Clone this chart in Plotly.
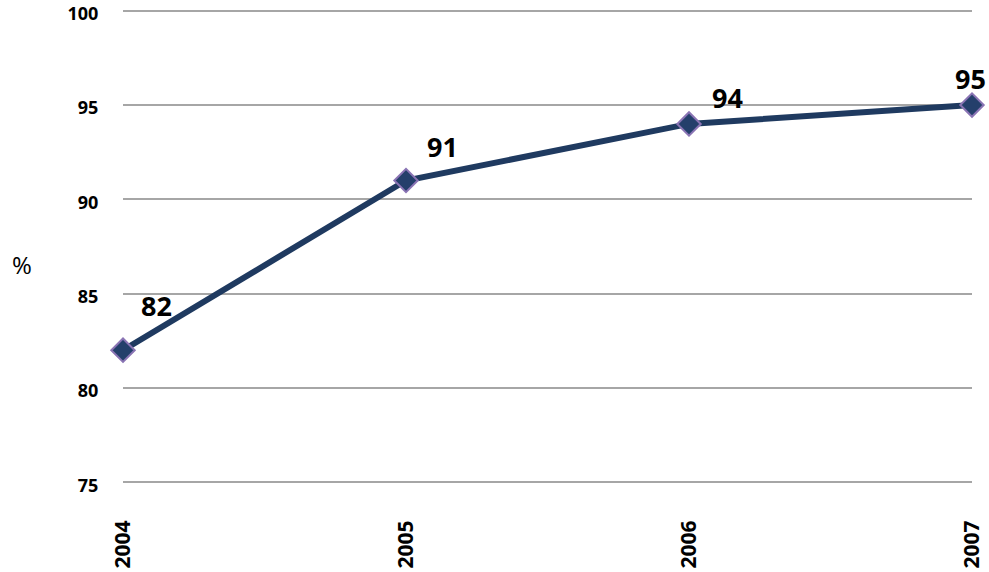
import plotly.graph_objects as go

years = ["2004", "2005", "2006", "2007"]
values = [82, 91, 94, 95]
y_ticks = [75, 80, 85, 90, 95, 100]

# label offsets (pixels) for the value annotations
label_shifts = [(33, 45), (36, 34), (38, 26), (-2, 27)]

FONT = "Open Sans, Lato, sans-serif"

fig = go.Figure()
fig.add_trace(go.Scatter(
    x=list(range(len(years))), y=values,
    mode="lines+markers",
    line=dict(color="#1F3A60", width=6),
    marker=dict(symbol="diamond", size=18, color="#243F6B",
                line=dict(color="#8A74B4", width=2)),
    cliponaxis=False,
    hoverinfo="skip", showlegend=False,
))

for i, (v, (dx, dy)) in enumerate(zip(values, label_shifts)):
    fig.add_annotation(x=i, y=v, text=f"<b>{v}</b>", showarrow=False,
                       xshift=dx, yshift=dy,
                       font=dict(family=FONT, size=27, color="#000"))

fig.add_annotation(xref="paper", yref="paper", x=-0.133, y=0.462, text="%",
                   showarrow=False, xanchor="left",
                   font=dict(family=FONT, size=24, color="#000"))

fig.update_xaxes(
    range=[0, 3], tickmode="array", tickvals=list(range(len(years))),
    ticktext=[f"<b>{y}</b>" for y in years], tickangle=-90,
    showgrid=False, zeroline=False, showline=False, automargin=False,
    ticklabeloverflow="allow",
    ticks="outside", ticklen=25, tickcolor="rgba(0,0,0,0)",
    tickfont=dict(family=FONT, size=21, color="#000"),
)
fig.update_yaxes(
    range=[74.8, 100.2], tickmode="array", tickvals=y_ticks,
    ticktext=[f"<b>{t}</b>" for t in y_ticks],
    showgrid=True, gridcolor="#A6A6A6", gridwidth=1.5,
    zeroline=False, showline=False, automargin=False,
    ticklabeloverflow="allow", ticklabelshift=3,
    ticks="outside", ticklen=20, tickcolor="rgba(0,0,0,0)",
    tickfont=dict(family=FONT, size=18, color="#000"),
)

fig.update_layout(
    width=989, height=572,
    margin=dict(l=123, r=17, t=7, b=86),
    plot_bgcolor="white", paper_bgcolor="white",
)

fig.write_html("out.html")
